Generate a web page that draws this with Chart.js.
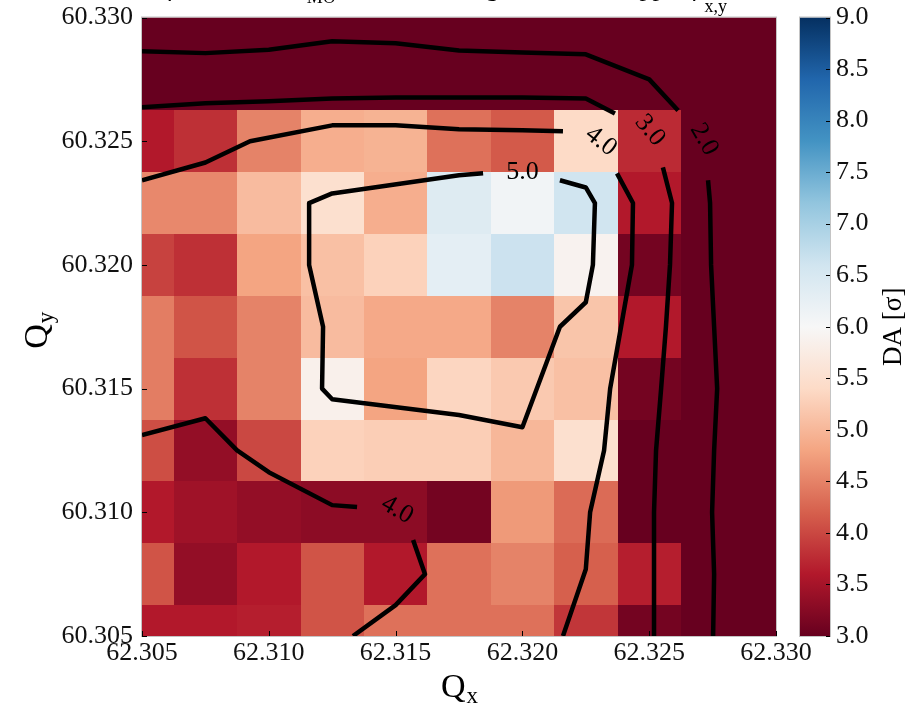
<!DOCTYPE html>
<html>
<head>
<meta charset="utf-8">
<title>DA tune scan</title>
<script src="https://cdn.jsdelivr.net/npm/chart.js@4.4.1/dist/chart.umd.min.js"></script>
<style>
  html, body { margin: 0; padding: 0; background: #fff; }
  #wrap { width: 914px; height: 705px; }
</style>
</head>
<body>
<div id="wrap"><canvas id="daMap" width="914" height="705"></canvas></div>
<script>
// tune grid (cell centres), Qy listed from the top row down
const qxValues = [62.305, 62.3075, 62.310, 62.3125, 62.315, 62.3175, 62.320, 62.3225, 62.325, 62.3275, 62.330];
const qyValues = [60.330, 60.3275, 60.325, 60.3225, 60.320, 60.3175, 60.315, 60.3125, 60.310, 60.3075, 60.305];

// minimum DA [sigma], one row per Qy value
const daRows = [
  [1.5, 1.5, 1.6, 1.7, 1.7, 1.6, 1.5, 1.5, 1.3, 1.0, 0.8],
  [2.6, 2.6, 2.7, 2.8, 2.8, 2.8, 2.7, 2.7, 2.2, 1.6, 1.0],
  [3.6, 3.8, 4.5, 4.9, 4.95, 4.35, 4.15, 5.4, 3.75, 2.0, 1.0],
  [4.55, 4.55, 5.05, 5.5, 4.9, 6.4, 6.1, 6.6, 3.6, 2.0, 1.0],
  [3.95, 3.8, 4.8, 5.1, 5.3, 6.3, 6.65, 5.9, 3.1, 2.0, 1.0],
  [4.45, 4.1, 4.5, 5.05, 4.85, 4.85, 4.5, 5.15, 3.6, 2.0, 1.0],
  [4.45, 3.8, 4.5, 5.85, 4.8, 5.35, 5.2, 5.1, 3.1, 2.0, 1.0],
  [4.05, 3.35, 4.0, 5.3, 5.25, 5.25, 5.0, 5.5, 3.0, 2.0, 1.0],
  [3.6, 3.45, 3.35, 3.3, 3.3, 3.1, 4.7, 4.3, 3.0, 2.0, 1.0],
  [4.1, 3.35, 3.6, 4.1, 3.6, 4.35, 4.5, 4.2, 3.65, 2.0, 1.0],
  [3.6, 3.6, 3.65, 4.1, 4.35, 4.35, 4.35, 3.85, 3.1, 2.0, 1.0]
];

const cellHalf = 0.00125;
const daMin = 3.0, daMax = 9.0;
const cbarStep = 0.5;

// contour lines [Qx, Qy], split where the level labels sit
const contour20a = [[62.305, 60.32864], [62.3075, 60.32856], [62.310, 60.32870], [62.3125, 60.32904], [62.315, 60.32896],
  [62.3175, 60.32867], [62.320, 60.32859], [62.3225, 60.32851], [62.325, 60.3275], [62.32614, 60.32624]];
const contour20b = [[62.32732, 60.32342], [62.32740, 60.3225], [62.32744, 60.320], [62.32756, 60.3175], [62.32768, 60.315],
  [62.32756, 60.3125], [62.32748, 60.310], [62.32756, 60.3075], [62.32752, 60.305]];
const contour30a = [[62.305, 60.32637], [62.3075, 60.32653], [62.310, 60.32661], [62.3125, 60.32673], [62.315, 60.32677],
  [62.3175, 60.32677], [62.320, 60.32677], [62.3225, 60.32673], [62.32365, 60.32612]];
const contour30b = [[62.32554, 60.32394], [62.32590, 60.3225], [62.32582, 60.320], [62.32566, 60.3175], [62.32547, 60.315],
  [62.32527, 60.3125], [62.32519, 60.310], [62.32519, 60.3075], [62.32519, 60.305]];
const contour40a = [[62.305, 60.32342], [62.3075, 60.32414], [62.30926, 60.325], [62.3125, 60.32564], [62.315, 60.32564],
  [62.3175, 60.32548], [62.320, 60.32544], [62.32160, 60.32540]];
const contour40b = [[62.32373, 60.32370], [62.32436, 60.3225], [62.32432, 60.320], [62.32389, 60.3175], [62.32346, 60.315],
  [62.32322, 60.3125], [62.32267, 60.310], [62.3225, 60.3077], [62.32160, 60.305]];
const contour40c = [[62.305, 60.31312], [62.3075, 60.31380], [62.30875, 60.3125], [62.310, 60.31162], [62.3125, 60.31029],
  [62.31348, 60.31021]];
const contour40d = [[62.31569, 60.30888], [62.31616, 60.3075], [62.315, 60.30625], [62.31332, 60.305]];
const contour50 = [[62.31845, 60.32370], [62.3175, 60.32362], [62.3125, 60.32289], [62.31159, 60.3225], [62.31159, 60.320],
  [62.31214, 60.3175], [62.31210, 60.315], [62.3125, 60.31457], [62.3175, 60.31393], [62.320, 60.31344],
  [62.32148, 60.3175], [62.3225, 60.31849], [62.32278, 60.320], [62.32286, 60.3225], [62.3225, 60.32313], [62.32148, 60.32342]];

// contour level labels: text, Qx, Qy, angle (deg)
const levelLabels = [
  ['5.0', 62.3200, 60.32374, 0],
  ['4.0', 62.3231, 60.32499, 38],
  ['3.0', 62.32503, 60.32544, 50],
  ['2.0', 62.32716, 60.32507, 60],
  ['4.0', 62.31506, 60.31009, 30]
];

const serif = "'Liberation Serif', 'Times New Roman', serif";
const rdbu = ['#67001f', '#b2182b', '#d6604d', '#f4a582', '#fddbc7', '#f7f7f7',
  '#d1e5f0', '#92c5de', '#4393c3', '#2166ac', '#053061'];

function hexRgb(h) {
  return [parseInt(h.slice(1, 3), 16), parseInt(h.slice(3, 5), 16), parseInt(h.slice(5, 7), 16)];
}
const rdbuRgb = rdbu.map(hexRgb);

function daColor(v) {
  let t = (v - daMin) / (daMax - daMin);
  t = Math.max(0, Math.min(1, t)) * (rdbu.length - 1);
  const i = Math.min(Math.floor(t), rdbu.length - 2);
  const f = t - i;
  const a = rdbuRgb[i], b = rdbuRgb[i + 1];
  const c = a.map((ch, k) => Math.round(ch + (b[k] - ch) * f));
  return `rgb(${c[0]},${c[1]},${c[2]})`;
}

function toPts(arr) {
  return arr.map(p => ({x: p[0], y: p[1]}));
}

const heatmapPlugin = {
  id: 'heatmap',
  beforeDatasetsDraw(chart) {
    const {ctx, chartArea: a, scales: {x, y}} = chart;
    // shared cell edges so neighbouring cells meet without gaps
    const xEdges = qxValues.map(v => v - cellHalf).concat(qxValues[qxValues.length - 1] + cellHalf)
      .map(v => Math.round(x.getPixelForValue(v)));
    const yEdges = qyValues.map(v => v + cellHalf).concat(qyValues[qyValues.length - 1] - cellHalf)
      .map(v => Math.round(y.getPixelForValue(v)));
    ctx.save();
    ctx.beginPath();
    ctx.rect(a.left, a.top, a.right - a.left, a.bottom - a.top);
    ctx.clip();
    qyValues.forEach((qy, r) => {
      qxValues.forEach((qx, c) => {
        ctx.fillStyle = daColor(daRows[r][c]);
        ctx.fillRect(xEdges[c], yEdges[r], xEdges[c + 1] - xEdges[c], yEdges[r + 1] - yEdges[r]);
      });
    });
    ctx.restore();
  },
  afterDatasetsDraw(chart) {
    const {ctx, chartArea: a, scales: {x, y}} = chart;
    ctx.save();
    // contour labels
    ctx.fillStyle = '#000';
    ctx.font = `26px ${serif}`;
    ctx.textAlign = 'center';
    ctx.textBaseline = 'middle';
    levelLabels.forEach(([txt, lx, ly, ang]) => {
      ctx.save();
      ctx.translate(x.getPixelForValue(lx), y.getPixelForValue(ly));
      ctx.rotate(ang * Math.PI / 180);
      ctx.fillText(txt, 0, 0);
      ctx.restore();
    });
    // spines
    ctx.strokeStyle = '#c4c4c4';
    ctx.lineWidth = 1;
    ctx.strokeRect(a.left - 0.5, a.top - 0.5, a.right - a.left + 1, a.bottom - a.top + 1);
    // inward tick marks
    ctx.strokeStyle = '#000';
    ctx.beginPath();
    x.ticks.forEach(t => {
      const px = Math.round(x.getPixelForValue(t.value)) + 0.5;
      ctx.moveTo(px, a.bottom);
      ctx.lineTo(px, a.bottom - 5);
    });
    y.ticks.forEach(t => {
      const py = Math.round(y.getPixelForValue(t.value)) + 0.5;
      ctx.moveTo(a.left, py);
      ctx.lineTo(a.left + 5, py);
    });
    ctx.stroke();
    ctx.restore();
  },
  afterDraw(chart) {
    const {ctx, chartArea: a, scales: {cb}} = chart;
    ctx.save();
    // colour bar
    const top = cb.getPixelForValue(daMax), bot = cb.getPixelForValue(daMin);
    const left = cb.left + 24, w = 30;
    const grad = ctx.createLinearGradient(0, bot, 0, top);
    rdbu.forEach((col, i) => grad.addColorStop(i / (rdbu.length - 1), col));
    ctx.fillStyle = grad;
    ctx.fillRect(left, top, w, bot - top);
    ctx.strokeStyle = '#c4c4c4';
    ctx.lineWidth = 1;
    ctx.strokeRect(left - 0.5, top - 0.5, w + 1, bot - top + 1);
    ctx.strokeStyle = '#000';
    ctx.beginPath();
    cb.ticks.forEach(t => {
      const py = Math.round(cb.getPixelForValue(t.value)) + 0.5;
      ctx.moveTo(left + w, py);
      ctx.lineTo(left + w - 4, py);
    });
    ctx.stroke();

    ctx.fillStyle = '#000';
    // colour bar label
    ctx.save();
    ctx.translate(901, (top + bot) / 2);
    ctx.rotate(-Math.PI / 2);
    ctx.font = `27px ${serif}`;
    ctx.textAlign = 'center';
    ctx.textBaseline = 'alphabetic';
    ctx.fillText('DA [σ]', 0, 0);
    ctx.restore();

    // axis titles with subscripts
    function subTitle(main, sub, cx, cy, rot) {
      ctx.save();
      ctx.translate(cx, cy);
      ctx.rotate(rot);
      ctx.textBaseline = 'alphabetic';
      ctx.textAlign = 'left';
      ctx.font = `34px ${serif}`;
      const wm = ctx.measureText(main).width;
      ctx.font = `23px ${serif}`;
      const ws = ctx.measureText(sub).width;
      const x0 = -(wm + ws) / 2;
      ctx.font = `34px ${serif}`;
      ctx.fillText(main, x0, 0);
      ctx.font = `23px ${serif}`;
      ctx.fillText(sub, x0 + wm + 1, 6);
      ctx.restore();
    }
    subTitle('Q', 'x', (a.left + a.right) / 2, 697, 0);
    subTitle('Q', 'y', 47, (a.top + a.bottom) / 2 + 4, -Math.PI / 2);

    // figure title, mostly above the canvas edge
    const parts = [
      ['Q′ = 15, β* = 30 cm, I', 26, 0],
      ['MO', 18, 7],
      [' = −350 A, single bunch, 1.2 ppb, ρ', 26, 0],
      ['x,y', 18, 16]
    ];
    let total = 0;
    parts.forEach(([t, s]) => { ctx.font = `${s}px ${serif}`; total += ctx.measureText(t).width; });
    let tx = 727 - total;
    ctx.textAlign = 'left';
    ctx.textBaseline = 'alphabetic';
    parts.forEach(([t, s, dy]) => {
      ctx.font = `${s}px ${serif}`;
      ctx.fillText(t, tx, -4 + dy);
      tx += ctx.measureText(t).width;
    });
    ctx.restore();
  }
};

const lineStyle = {
  showLine: true,
  borderColor: '#000',
  borderWidth: 4.5,
  pointRadius: 0,
  tension: 0,
  borderJoinStyle: 'round',
  fill: false
};

const tickFont = {family: serif, size: 26};

new Chart(document.getElementById('daMap'), {
  type: 'scatter',
  data: {
    datasets: [contour20a, contour20b, contour30a, contour30b, contour40a, contour40b, contour40c, contour40d, contour50]
      .map(c => Object.assign({data: toPts(c)}, lineStyle))
  },
  options: {
    responsive: false,
    animation: false,
    events: [],
    layout: {padding: {top: 17.5, left: 0, right: 0, bottom: 0}},
    plugins: {legend: {display: false}, tooltip: {enabled: false}, title: {display: false}},
    scales: {
      x: {
        type: 'linear',
        min: 62.305, max: 62.330,
        grid: {display: false, drawTicks: true, tickLength: 2},
        border: {display: false},
        ticks: {stepSize: 0.005, padding: 0, color: '#111', font: tickFont, maxRotation: 0, autoSkip: false,
          callback: v => Number(v).toFixed(3)},
        afterFit: s => { s.height = 69; }
      },
      y: {
        type: 'linear',
        min: 60.305, max: 60.330,
        grid: {display: false, drawTicks: true, tickLength: 9},
        border: {display: false},
        ticks: {stepSize: 0.005, padding: 0, color: '#111', font: tickFont, autoSkip: false,
          callback: v => Number(v).toFixed(3)},
        afterFit: s => { s.width = 142; }
      },
      cb: {
        type: 'linear',
        position: 'right',
        min: daMin, max: daMax,
        grid: {display: false, drawTicks: true, tickLength: 60},
        border: {display: false},
        ticks: {stepSize: cbarStep, padding: 0, color: '#111', font: tickFont, autoSkip: false,
          callback: v => Number(v).toFixed(1)},
        afterFit: s => { s.width = 138; }
      }
    }
  },
  plugins: [heatmapPlugin]
});
</script>
</body>
</html>
